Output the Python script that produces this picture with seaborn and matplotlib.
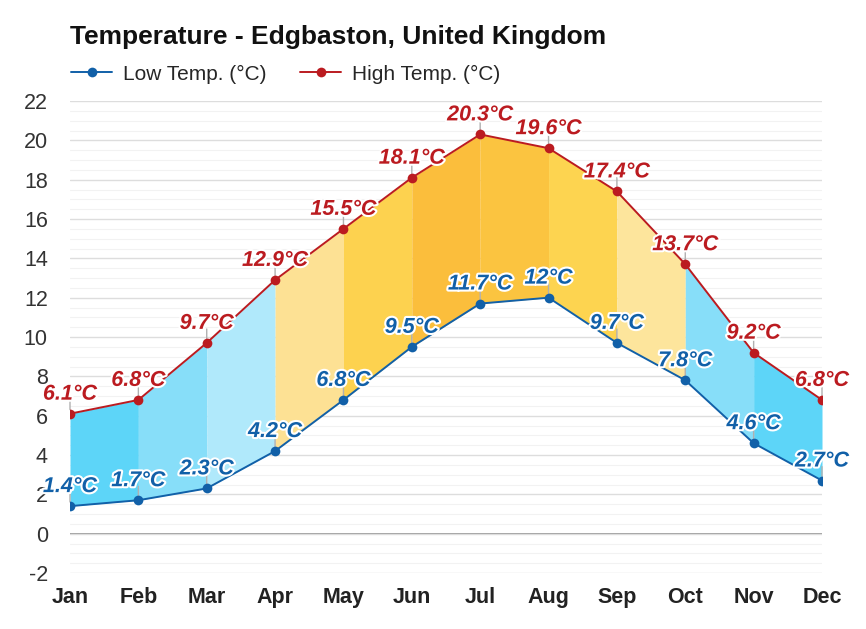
import numpy as np
import pandas as pd
import matplotlib.pyplot as plt
import matplotlib.patheffects as pe
import seaborn as sns

###############################################################
# data
###############################################################

months = ["Jan", "Feb", "Mar", "Apr", "May", "Jun",
          "Jul", "Aug", "Sep", "Oct", "Nov", "Dec"]
low_temp = [1.4, 1.7, 2.3, 4.2, 6.8, 9.5, 11.7, 12.0, 9.7, 7.8, 4.6, 2.7]
high_temp = [6.1, 6.8, 9.7, 12.9, 15.5, 18.1, 20.3, 19.6, 17.4, 13.7, 9.2, 6.8]
low_labels = ["1.4°C", "1.7°C", "2.3°C", "4.2°C", "6.8°C", "9.5°C",
              "11.7°C", "12°C", "9.7°C", "7.8°C", "4.6°C", "2.7°C"]
high_labels = ["6.1°C", "6.8°C", "9.7°C", "12.9°C", "15.5°C", "18.1°C",
               "20.3°C", "19.6°C", "17.4°C", "13.7°C", "9.2°C", "6.8°C"]
# band colour for each month-to-month segment
band_colors = ["#5dd5f8", "#87def9", "#b0e9fb", "#fde194", "#fdd24f",
               "#fbbe3c", "#fbc440", "#fdd450", "#fde59c", "#87def9",
               "#5dd5f8"]

df = pd.DataFrame({"x": np.arange(len(months)), "month": months,
                   "low": low_temp, "high": high_temp})

LOW_C = "#1160a8"
HIGH_C = "#bb1b20"

###############################################################
# figure
###############################################################

sns.set_style("white")
plt.rcParams["font.family"] = ["Liberation Sans", "DejaVu Sans"]

fig = plt.figure(figsize=(8.66, 6.29), dpi=100)
ax = fig.add_axes([70 / 866, (629 - 573) / 629, (822 - 70) / 866, (573 - 101) / 629])

# bands between low and high
for i in range(len(months) - 1):
    ax.fill_between(df["x"][i:i + 2], df["low"][i:i + 2], df["high"][i:i + 2],
                    color=band_colors[i], linewidth=0, zorder=1)

sns.lineplot(data=df, x="x", y="low", color=LOW_C, marker="o", markersize=7,
             markeredgewidth=0, linewidth=1.4, ax=ax, zorder=3, label="Low Temp. (°C)")
sns.lineplot(data=df, x="x", y="high", color=HIGH_C, marker="o", markersize=7,
             markeredgewidth=0, linewidth=1.4, ax=ax, zorder=3, label="High Temp. (°C)")

# data labels
stroke = [pe.withStroke(linewidth=3, foreground="white")]
for i in range(len(months)):
    for val, lab, col in [(low_temp[i], low_labels[i], LOW_C),
                          (high_temp[i], high_labels[i], HIGH_C)]:
        ax.annotate("", xy=(i, val), xytext=(0, 10), textcoords="offset points",
                    arrowprops=dict(arrowstyle="-", color="#b0b0b0", lw=1,
                                    shrinkA=0, shrinkB=3), zorder=2)
        ax.annotate(lab, xy=(i, val), xytext=(0, 6.5), textcoords="offset points",
                    ha="center", va="bottom", fontsize=15.5, fontweight="bold",
                    fontstyle="italic", color=col, path_effects=stroke, zorder=5)

ax.set_xlim(0, 11)
ax.set_ylim(-2, 22)
ax.set_xticks(df["x"])
ax.set_xticklabels(months, fontsize=15.5, fontweight="bold", color="#222222")
ax.set_yticks(np.arange(-2, 23, 2))
ax.set_yticklabels([str(v) for v in range(-2, 23, 2)], fontsize=15.5, color="#333333")
ax.set_yticks(np.arange(-2, 22.1, 0.5), minor=True)
ax.tick_params(axis="x", length=0, pad=10)
ax.tick_params(axis="y", which="both", length=0, pad=16)
ax.grid(axis="y", which="major", color="#dddddd", linewidth=1, zorder=0)
ax.grid(axis="y", which="minor", color="#f2f2f2", linewidth=0.8, zorder=0)
ax.axhline(0, color="#8a8a8a", linewidth=1.2, zorder=0.5)
ax.set_axisbelow(True)
for s in ax.spines.values():
    s.set_visible(False)
ax.set_xlabel("")
ax.set_ylabel("")

handles, labels = ax.get_legend_handles_labels()
ax.get_legend().remove()
fig.legend(handles, labels, loc="center left", bbox_to_anchor=(52 / 866, 1 - 74 / 629),
           ncol=2, frameon=False, fontsize=15, handlelength=2.0, columnspacing=1.6,
           handletextpad=0.5)

fig.text(70 / 866, 1 - 37 / 629, "Temperature - Edgbaston, United Kingdom",
         fontsize=19, fontweight="bold", va="center", ha="left", color="#111111")

plt.savefig("out.png", dpi=100)
plt.close()
